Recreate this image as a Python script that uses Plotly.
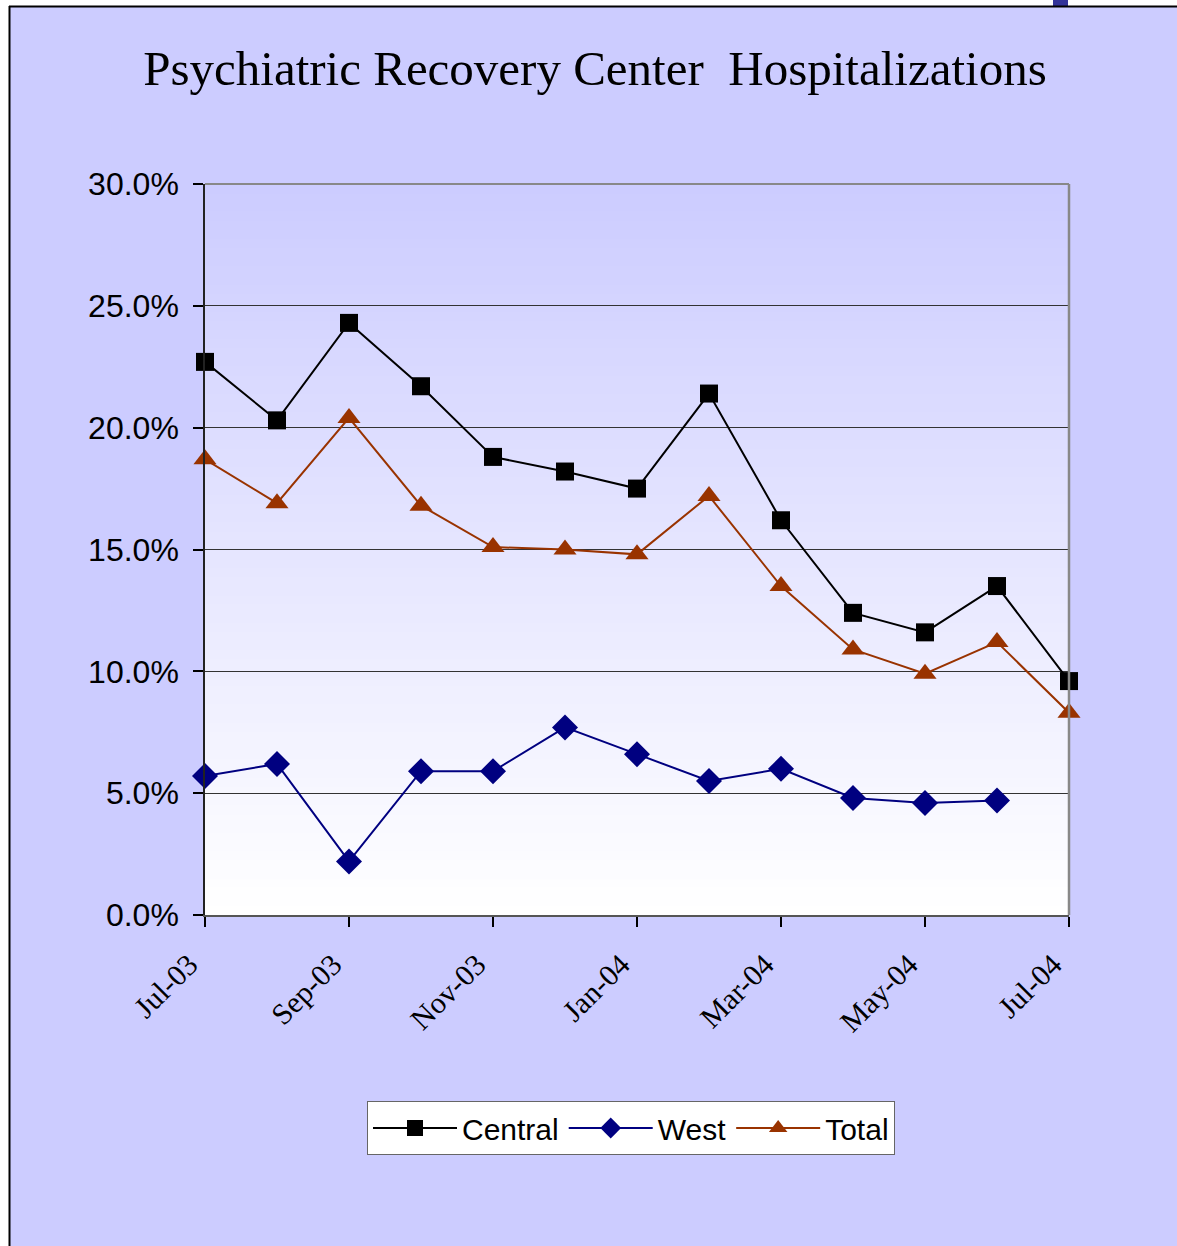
import plotly.graph_objects as go

months = ["Jul-03", "Aug-03", "Sep-03", "Oct-03", "Nov-03", "Dec-03", "Jan-04",
          "Feb-04", "Mar-04", "Apr-04", "May-04", "Jun-04", "Jul-04"]
central = [22.7, 20.3, 24.3, 21.7, 18.8, 18.2, 17.5, 21.4, 16.2, 12.4, 11.6, 13.5, 9.6]
west = [5.7, 6.2, 2.2, 5.9, 5.9, 7.7, 6.6, 5.5, 6.0, 4.8, 4.6, 4.7, None]
total = [18.7, 16.9, 20.4, 16.8, 15.1, 15.0, 14.8, 17.2, 13.5, 10.9, 9.9, 11.2, 8.3]
tick_months = ["Jul-03", "Sep-03", "Nov-03", "Jan-04", "Mar-04", "May-04", "Jul-04"]
y_ticks = [0, 5, 10, 15, 20, 25, 30]

W, H = 1177, 1246
L, R, T, B = 205, 108, 184, 331
pw, ph = W - L - R, H - T - B

def px_x(p):
    return (p - L) / pw

def px_y(p):
    return (H - B - p) / ph

fig = go.Figure()
fig.add_trace(go.Scatter(x=months, y=central, name="Central", mode="lines+markers",
                         line=dict(color="#000000", width=2), cliponaxis=False,
                         marker=dict(symbol="square", size=18, color="#000000")))
fig.add_trace(go.Scatter(x=months, y=west, name="West", mode="lines+markers",
                         line=dict(color="#000080", width=2), cliponaxis=False,
                         marker=dict(symbol="diamond", size=20, color="#000080")))
fig.add_trace(go.Scatter(x=months, y=total, name="Total", mode="lines+markers",
                         line=dict(color="#993300", width=2), cliponaxis=False,
                         marker=dict(symbol="triangle-up", size=20, color="#993300")))

shapes = []
# gradient plot background
n = 80
for i in range(n):
    f = i / (n - 1)  # 0 bottom -> 1 top
    r = round(255 - (255 - 204) * f)
    g = round(255 - (255 - 204) * f)
    shapes.append(dict(type="rect", xref="x domain", yref="y domain",
                       x0=0, x1=1, y0=i / n, y1=(i + 1) / n + 0.002,
                       fillcolor=f"rgb({r},{g},255)", line=dict(width=0),
                       layer="below"))
# outer white margins and frame
shapes.append(dict(type="rect", xref="paper", yref="paper",
                   x0=px_x(0), x1=px_x(9), y0=px_y(H), y1=px_y(0),
                   fillcolor="white", line=dict(width=0), layer="below"))
shapes.append(dict(type="rect", xref="paper", yref="paper",
                   x0=px_x(0), x1=px_x(W), y0=px_y(6), y1=px_y(0),
                   fillcolor="white", line=dict(width=0), layer="below"))
shapes.append(dict(type="rect", xref="paper", yref="paper",
                   x0=px_x(1053), x1=px_x(1068), y0=px_y(6), y1=px_y(0),
                   fillcolor="#333399", line=dict(width=0), layer="below"))
shapes.append(dict(type="line", xref="paper", yref="paper",
                   x0=px_x(9.5), x1=px_x(9.5), y0=px_y(H), y1=px_y(6),
                   line=dict(color="black", width=2)))
shapes.append(dict(type="line", xref="paper", yref="paper",
                   x0=px_x(9), x1=px_x(W), y0=px_y(6.5), y1=px_y(6.5),
                   line=dict(color="black", width=2)))
# plot frame: right/top border gray
shapes.append(dict(type="line", xref="paper", yref="paper",
                   x0=1, x1=1, y0=0, y1=1, line=dict(color="#888888", width=2.5)))
shapes.append(dict(type="line", xref="paper", yref="paper",
                   x0=0, x1=1, y0=1, y1=1, line=dict(color="#888888", width=2)))

fig.update_layout(
    width=W, height=H,
    margin=dict(l=L, r=R, t=T, b=B, autoexpand=False),
    paper_bgcolor="#CCCCFF",
    plot_bgcolor="rgba(0,0,0,0)",
    shapes=shapes,
    title=dict(text="Psychiatric Recovery Center\u00a0\u00a0Hospitalizations",
               font=dict(family="Liberation Serif", size=49, color="black"),
               xref="container", yref="container",
               x=595 / W, y=1 - 68 / H, xanchor="center", yanchor="middle"),
    showlegend=True,
    legend=dict(orientation="h", x=px_x(631), y=px_y(1128),
                xanchor="center", yanchor="middle",
                bgcolor="white", bordercolor="#666666", borderwidth=1,
                font=dict(family="Liberation Sans", size=30, color="black"),
                itemwidth=84),
    xaxis=dict(type="category", categoryorder="array", categoryarray=months,
               range=[0, len(months) - 1],
               tickvals=tick_months, ticktext=tick_months,
               tickangle=-45, ticks="outside", ticklen=10, tickcolor="black",
               tickwidth=1.5, ticklabelstandoff=8, ticklabelshift=-16,
               tickfont=dict(family="Liberation Serif", size=30, color="black"),
               showgrid=False, showline=True, linecolor="#555555", linewidth=2,
               zeroline=False),
    yaxis=dict(range=[0, 30], tickvals=y_ticks,
               ticktext=[f"{v:.1f}%" for v in y_ticks],
               ticks="outside", ticklen=10, tickcolor="black", tickwidth=1.5,
               ticklabelstandoff=8,
               tickfont=dict(family="Liberation Sans", size=32, color="black"),
               showgrid=True, gridcolor="#333333", gridwidth=1,
               showline=True, linecolor="#222222", linewidth=1.5,
               zeroline=False),
)

fig.write_html("out.html", config={"displayModeBar": False},
               post_script="document.body.style.margin='0';document.body.style.overflow='hidden';")
